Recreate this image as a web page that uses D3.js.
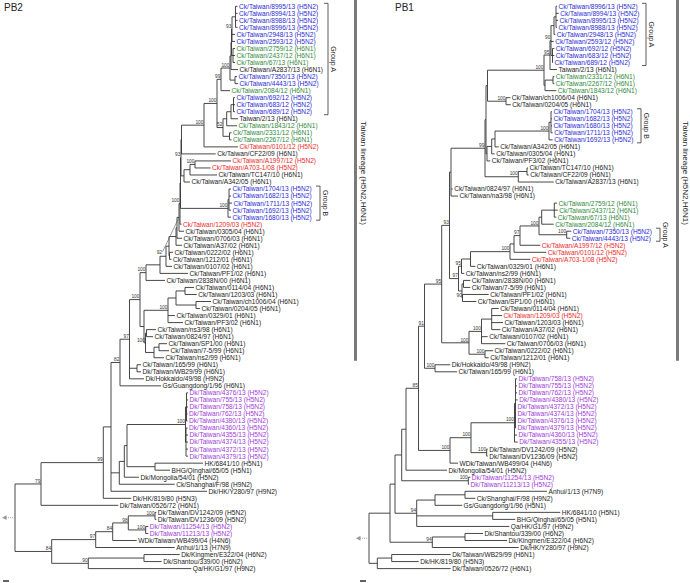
<!DOCTYPE html>
<html><head><meta charset="utf-8">
<script src="https://cdn.jsdelivr.net/npm/d3@7"></script>
<style>body{margin:0;background:#fff}svg{display:block}text{font-family:"Liberation Sans",Arial,sans-serif}</style>
</head><body>
<svg id="chart" width="690" height="583"></svg>
<script>
// ---------------- DATA ----------------
const pb2Names = ["Ck/Taiwan/8995/13 (H5N2)","Ck/Taiwan/8994/13 (H5N2)","Ck/Taiwan/8988/13 (H5N2)","Ck/Taiwan/8996/13 (H5N2)","Ck/Taiwan/2948/13 (H5N2)","Ck/Taiwan/2593/12 (H5N2)","Ck/Taiwan/2759/12 (H6N1)","Ck/Taiwan/2437/12 (H6N1)","Ck/Taiwan/67/13 (H6N1)","Ck/Taiwan/A2837/13 (H6N1)","Ck/Taiwan/7350/13 (H5N2)","Ck/Taiwan/4443/13 (H5N2)","Ck/Taiwan/2084/12 (H6N1)","Ck/Taiwan/692/12 (H5N2)","Ck/Taiwan/683/12 (H5N2)","Ck/Taiwan/689/12 (H5N2)","Taiwan/2/13 (H6N1)","Ck/Taiwan/1843/12 (H6N1)","Ck/Taiwan/2331/12 (H6N1)","Ck/Taiwan/2267/12 (H6N1)","Ck/Taiwan/0101/12 (H5N2)","Ck/Taiwan/CF22/09 (H6N1)","Ck/Taiwan/A1997/12 (H5N2)","Ck/Taiwan/A703-1/08 (H5N2)","Ck/Taiwan/TC147/10 (H6N1)","Ck/Taiwan/A342/05 (H6N1)","Ck/Taiwan/1704/13 (H5N2)","Ck/Taiwan/1682/13 (H5N2)","Ck/Taiwan/1711/13 (H5N2)","Ck/Taiwan/1692/13 (H5N2)","Ck/Taiwan/1680/13 (H5N2)","Ck/Taiwan/1209/03 (H5N2)","Ck/Taiwan/0305/04 (H6N1)","Ck/Taiwan/0706/03 (H6N1)","Ck/Taiwan/A37/02 (H6N1)","Ck/Taiwan/0222/02 (H6N1)","Ck/Taiwan/1212/01 (H6N1)","Ck/Taiwan/0107/02 (H6N1)","Ck/Taiwan/PF1/02 (H6N1)","Ck/Taiwan/2838N/00 (H6N1)","Ck/Taiwan/0114/04 (H6N1)","Ck/Taiwan/1203/03 (H6N1)","Ck/Taiwan/ch1006/04 (H6N1)","Ck/Taiwan/0204/05 (H6N1)","Ck/Taiwan/0329/01 (H6N1)","Ck/Taiwan/PF3/02 (H6N1)","Ck/Taiwan/ns3/98 (H6N1)","Ck/Taiwan/0824/97 (H6N1)","Ck/Taiwan/SP1/00 (H6N1)","Ck/Taiwan/7-5/99 (H6N1)","Ck/Taiwan/ns2/99 (H6N1)","Ck/Taiwan/165/99 (H6N1)","Dk/Taiwan/WB29/99 (H6N1)","Dk/Hokkaido/49/98 (H9N2)","Gs/Guangdong/1/96 (H6N1)","Dk/Taiwan/4376/13 (H5N2)","Dk/Taiwan/755/13 (H5N2)","Dk/Taiwan/758/13 (H5N2)","Dk/Taiwan/762/13 (H5N2)","Dk/Taiwan/4380/13 (H5N2)","Dk/Taiwan/4360/13 (H5N2)","Dk/Taiwan/4355/13 (H5N2)","Dk/Taiwan/4374/13 (H5N2)","Dk/Taiwan/4372/13 (H5N2)","Dk/Taiwan/4379/13 (H5N2)","HK/6841/10 (H5N1)","BHG/Qinghai/65/05 (H5N1)","Dk/Mongolia/54/01 (H5N2)","Ck/Shanghai/F/98 (H9N2)","Dk/HK/Y280/97 (H9N2)","Dk/HK/819/80 (H5N3)","Dk/Taiwan/0526/72 (H6N1)","Dk/Taiwan/DV1242/09 (H5N2)","Dk/Taiwan/DV1236/09 (H5N2)","Dk/Taiwan/11254/13 (H5N2)","Dk/Taiwan/11213/13 (H5N2)","WDk/Taiwan/WB499/04 (H4N6)","Anhui/1/13 (H7N9)","Dk/Kingmen/E322/04 (H6N2)","Dk/Shantou/339/00 (H6N2)","Qa/HK/G1/97 (H9N2)"];
const pb2Groups = "bbbbbbgggkbbgbbbkgggrkrrkkbbbbbrkkkkkkkkkkkkkkkkkkkkkkkppppppppppkkkkkkkkkppkkkkk".split("");
// internal nodes: [id, parent, height from root, bootstrap]
const pb2Nodes = [["r","",0,""],["n79","r",26,"79"],["n84","r",36.7,"84"],["A","n79",88.3,"99"],["G","A",96,""],["H","G",105,"82"],["I","H",114.5,"97"],["J2","I",125,"100"],["J1","J2",131,"100"],["B9","J1",145,""],["B8","B9",151,""],["B7","B8",154,""],["Q","B7",154.5,""],["B6","B7",161,""],["B5","B6",162,""],["B4","B5",164,"92"],["B3","B4",165,"100"],["B2","B3",165.5,""],["B1","B2",166,"93"],["B1i","B1",166.5,""],["n204","B1i",189,"100"],["n217","n204",202,"100"],["n221","n217",206,"99"],["n230","n221",215,"100"],["n231","n230",216,""],["n231b","n231",216.5,""],["n93","n231b",217,"93"],["c14","n93",220.5,""],["gr","n231b",218,""],["n7350","n230",220,""],["n223","n217",208,"52"],["n1843","n223",211.7,""],["nt2","n1843",216,""],["n692","nt2",218.5,""],["n2331","n223",214.5,""],["nc","B1",169,""],["nb","nc",175,""],["na","nb",180,"100"],["gB","B2",213,"100"],["c4","gB",214,""],["J3","J2",129,""],["N168","J3",153,"100"],["n176","N168",161,""],["n185","n176",170,""],["n196","n176",181,""],["Z","J3",130.5,"100"],["nNs","Z",131.5,""],["n154","Z",139,""],["n159","n154",144,""],["nK","I",122,""],["C","G",104.3,""],["D","C",109.3,""],["E","D",112,""],["P","E",170.5,"100"],["Pa","P",171.5,""],["Pb","P",171,""],["HKB","E",140,""],["n97b","n84",80.7,"97"],["n84b","n97b",97.7,"84"],["n98","n84b",113.3,"98"],["nDV","n98",140,"100"],["n112","n98",130.7,"100"],["n90","n84",73.3,"90"],["nKS","n90",129,""]];
// leaves in row order: [parent, height from root]
const pb2Leaves = [["c14",222.5],["c14",222.5],["c14",222.5],["c14",222.5],["n93",220],["n93",220],["gr",220],["gr",220],["gr",220],["n231",223],["n7350",222],["n7350",223],["n221",215],["n692",220],["n692",220],["n692",220],["nt2",223],["n1843",222],["n2331",216.5],["n2331",216.5],["n204",223],["B1i",200.7],["na",216],["na",195.5],["nb",202],["nc",175],["c4",216],["c4",216],["c4",217],["c4",216],["gB",216],["B3",166.5],["B4",169],["B5",167],["B6",167],["Q",158],["Q",156.5],["B8",157],["B9",173],["J1",150],["n185",179],["n185",181.7],["n196",196],["n196",185],["N168",160],["N168",168],["nNs",141],["nNs",138],["n159",152],["n159",154],["n154",149],["nK",126],["nK",126],["I",129],["H",146],["Pa",173],["Pa",173],["Pa",173],["Pa",172.5],["Pa",172.5],["Pb",172.5],["Pb",173],["Pb",173],["Pb",173],["Pb",173],["HKB",188],["HKB",155],["D",124],["C",159.7],["G",192],["A",116.3],["n79",103.3],["nDV",141.3],["nDV",141.3],["n112",133.3],["n112",133.3],["n84b",121.7],["n97b",159.7],["nKS",164.7],["nKS",146.7],["n90",176.3]];
const pb2Leaders = ["B4"];
const pb2Brackets = [["Group A",0,15],["Group B",26,30]];

const pb1Names = ["Ck/Taiwan/8996/13 (H5N2)","Ck/Taiwan/8994/13 (H5N2)","Ck/Taiwan/8995/13 (H5N2)","Ck/Taiwan/8988/13 (H5N2)","Ck/Taiwan/2948/13 (H5N2)","Ck/Taiwan/2593/12 (H5N2)","Ck/Taiwan/692/12 (H5N2)","Ck/Taiwan/683/12 (H5N2)","Ck/Taiwan/689/12 (H5N2)","Taiwan/2/13 (H6N1)","Ck/Taiwan/2331/12 (H6N1)","Ck/Taiwan/2267/12 (H6N1)","Ck/Taiwan/1843/12 (H6N1)","Ck/Taiwan/ch1006/04 (H6N1)","Ck/Taiwan/0204/05 (H6N1)","Ck/Taiwan/1704/13 (H5N2)","Ck/Taiwan/1682/13 (H5N2)","Ck/Taiwan/1680/13 (H5N2)","Ck/Taiwan/1711/13 (H5N2)","Ck/Taiwan/1692/13 (H5N2)","Ck/Taiwan/A342/05 (H6N1)","Ck/Taiwan/0305/04 (H6N1)","Ck/Taiwan/PF3/02 (H6N1)","Ck/Taiwan/TC147/10 (H6N1)","Ck/Taiwan/CF22/09 (H6N1)","Ck/Taiwan/A2837/13 (H6N1)","Ck/Taiwan/0824/97 (H6N1)","Ck/Taiwan/na3/98 (H6N1)","Ck/Taiwan/2759/12 (H6N1)","Ck/Taiwan/2437/12 (H6N1)","Ck/Taiwan/67/13 (H6N1)","Ck/Taiwan/2084/12 (H6N1)","Ck/Taiwan/7350/13 (H5N2)","Ck/Taiwan/4443/13 (H5N2)","Ck/Taiwan/A1997/12 (H5N2)","Ck/Taiwan/0101/12 (H5N2)","Ck/Taiwan/A703-1/08 (H5N2)","Ck/Taiwan/0329/01 (H6N1)","Ck/Taiwan/ns2/99 (H6N1)","Ck/Taiwan/2838N/00 (H6N1)","Ck/Taiwan/7-5/99 (H6N1)","Ck/Taiwan/PF1/02 (H6N1)","Ck/Taiwan/SP1/00 (H6N1)","Ck/Taiwan/0114/04 (H6N1)","Ck/Taiwan/1209/03 (H5N2)","Ck/Taiwan/1203/03 (H6N1)","Ck/Taiwan/A37/02 (H6N1)","Ck/Taiwan/0107/02 (H6N1)","Ck/Taiwan/0706/03 (H6N1)","Ck/Taiwan/0222/02 (H6N1)","Ck/Taiwan/1212/01 (H6N1)","Dk/Hokkaido/49/98 (H9N2)","Ck/Taiwan/165/99 (H6N1)","Dk/Taiwan/758/13 (H5N2)","Dk/Taiwan/755/13 (H5N2)","Dk/Taiwan/762/13 (H5N2)","Dk/Taiwan/4380/13 (H5N2)","Dk/Taiwan/4372/13 (H5N2)","Dk/Taiwan/4374/13 (H5N2)","Dk/Taiwan/4376/13 (H5N2)","Dk/Taiwan/4379/13 (H5N2)","Dk/Taiwan/4360/13 (H5N2)","Dk/Taiwan/4355/13 (H5N2)","Dk/Taiwan/DV1242/09 (H5N2)","Dk/Taiwan/DV1236/09 (H5N2)","WDk/Taiwan/WB499/04 (H4N6)","Dk/Mongolia/54/01 (H5N2)","Dk/Taiwan/11254/13 (H5N2)","Dk/Taiwan/11213/13 (H5N2)","Anhui/1/13 (H7N9)","Ck/Shanghai/F/98 (H9N2)","Gs/Guangdong/1/96 (H5N1)","HK/6841/10 (H5N1)","BHG/Qinghai/65/05 (H5N1)","Qa/HK/G1/97 (H9N2)","Dk/Shantou/339/00 (H6N2)","Dk/Kingmen/E322/04 (H6N2)","Dk/HK/Y280/97 (H9N2)","Dk/Taiwan/WB29/99 (H6N1)","Dk/HK/819/80 (H5N3)","Dk/Taiwan/0526/72 (H6N1)"];
const pb1Groups = "bbbbbbbbbkgggkkbbbbbkkkkkkkkggggbbrrrkkkkkkkrkkkkkkkkppppppppppkkkkppkkkkkkkkkkkk".split("");
const pb1Nodes = [["r","",0,""],["n390","r",21,""],["n377","r",8.3,""],["n397","n390",26,""],["n432","n390",63.3,"94"],["nSK","n432",96,""],["n401","n397",32.7,""],["n416","n397",47.7,"94"],["n435b","n416",66,""],["n465","n435b",96,""],["nHK","n416",123.7,""],["n406","n401",37,""],["n468","n401",99.3,"100"],["n418","n406",49.5,"85"],["n425","n418",55.5,"91"],["n450b","n418",81,"100"],["n471b","n450b",102,"100"],["P","n471b",145.5,"100"],["Pa","P",146.5,""],["nDV","n471b",117.7,"100"],["n441","n425",72.7,"95"],["n435","n425",66,"100"],["n93","n441",80.5,"93"],["n469","n441",100,"100"],["n481","n469",112.5,"100"],["n491b","n481",122.7,""],["n485","n469",116,"100"],["n450","n93",82,""],["nY","n450",116,"99"],["nY1","nY",117,""],["nX","nY1",118.5,""],["n100","nX",175,"100"],["n95","n100",181,"95"],["n90","n95",182,"90"],["nA","n90",185,""],["c14","nA",187,""],["c692","n90",183.5,""],["n545","n100",176,""],["c2331","n545",184,""],["ch","nX",137,"100"],["nZ","nY1",118,""],["n491","nZ",122.7,""],["n495","n491",126,""],["gB","n495",180,"100"],["c4","gB",182,""],["n518","nY",149.3,"100"],["nTC","n518",158,""],["n458","n93",89.5,"97"],["n460","n458",92.5,"95"],["n471","n460",101.5,""],["n510","n471",141,"100"],["n513","n510",145,""],["n520","n513",151,"97"],["n539","n520",170,"100"],["nG","n539",172.7,""],["gr","nG",185.3,""],["n7350","n539",197.7,"100"],["n462","n458",93,""],["n2838","n462",94.5,""],["nPF","n462",93.5,"90"],["n391","n377",22.7,""]];
const pb1Leaves = [["c14",188],["c14",189.7],["c14",189],["c14",188],["nA",186.3],["n90",184.7],["c692",185.3],["c692",185.3],["c692",184],["n95",188],["c2331",185.3],["c2331",185.3],["n545",187.3],["ch",141.3],["ch",141.7],["c4",183],["c4",183],["c4",183],["c4",183.7],["gB",183.7],["n495",129.7],["n491",125.7],["nZ",121.3],["nTC",159],["nTC",159.7],["n518",184.7],["n450",83.7],["n450",89],["gr",188],["gr",188.7],["gr",187.3],["nG",184.7],["n7350",202.3],["n7350",201.3],["n520",171.3],["n513",177.3],["n510",161.3],["n471",106.3],["n460",95.3],["n2838",101.3],["n2838",101.3],["nPF",119.7],["nPF",107.3],["n491b",129.7],["n491b",133],["n491b",134],["n491b",131.3],["n481",118.7],["n481",136.3],["n485",124],["n485",119.7],["n435",81.3],["n435",88],["Pa",148],["Pa",148],["Pa",148],["Pa",148.7],["Pa",147],["Pa",147],["Pa",147],["Pa",147],["P",148],["P",148.7],["nDV",118.7],["nDV",118.7],["n450b",89],["n406",78],["n468",101.3],["n468",100],["n465",178],["n465",106.3],["n435b",93],["nHK",191.3],["nHK",146.3],["n416",140.3],["nSK",114],["nSK",138],["n432",149.7],["n391",81.7],["n391",49.7],["n377",81.7]];
const pb1Leaders = [];
const pb1Brackets = [["Group A",0,8],["Group B",15,19],["Group A",32,33]];

const lineageLabel = "Taiwan lineage (H5N2,H6N1)";
const lineageRows = [0, 50];
const scaleBarUnits = 6;
const groupColors = {b:"#2b2bd4", g:"#2f8a3c", r:"#ec2a2a", p:"#a03ad8", k:"#222"};

// ---------------- DRAW ----------------
const svg = d3.select("#chart");
const y = d3.scaleLinear().domain([0, 80]).range([6.3, 568.6]);

function drawPanel(o){
  const g = svg.append("g");
  const x = d3.scaleLinear().domain([0, 230]).range([o.x0, o.x0 + 230]);
  const rows = o.nodes.map(d => ({id:d[0], parent:d[1], h:d[2], support:d[3]}))
    .concat(o.leaves.map((d,i) => ({id:"L"+i, parent:d[0], h:d[1], leaf:i})));
  const root = d3.stratify().id(d => d.id).parentId(d => d.parent || null)(rows);
  root.eachAfter(n => {
    n.minLeaf = n.children ? d3.min(n.children, c => c.minLeaf) : n.data.leaf;
  });
  root.sort((a,b) => a.minLeaf - b.minLeaf);
  root.eachAfter(n => {
    n.py = n.children ? (n.children[0].py + n.children[n.children.length-1].py)/2 : y(n.data.leaf);
    n.px = x(n.data.h);
  });
  const lines = g.append("g").attr("stroke","#333").attr("stroke-width",0.9).attr("fill","none");
  root.descendants().forEach(n => {
    if(n.parent) lines.append("path").attr("d",`M${n.parent.px},${n.py}H${n.px}`);
    if(n.children) lines.append("path").attr("d",`M${n.px},${n.children[0].py}V${n.children[n.children.length-1].py}`);
  });
  // leaf labels
  g.append("g").selectAll("text").data(root.leaves()).join("text")
    .attr("x", d => d.px + 1.5).attr("y", d => d.py + 2.4)
    .attr("font-size", 6.6)
    .attr("fill", d => groupColors[o.groups[d.data.leaf]])
    .text(d => o.names[d.data.leaf]);
  // bootstrap values
  const sup = root.descendants().filter(n => n.data.support);
  g.append("g").selectAll("text").data(sup).join("text")
    .attr("x", d => o.leaders.includes(d.id) ? d.px - 17 : d.px - 0.6)
    .attr("y", d => o.leaders.includes(d.id) ? d.py + 37 : d.py - 1.3)
    .attr("text-anchor","end").attr("font-size",4.8).attr("fill","#333")
    .text(d => d.data.support);
  sup.filter(d => o.leaders.includes(d.id)).forEach(d => {
    g.append("line").attr("x1", d.px - 16.5).attr("y1", d.py + 34.5).attr("x2", d.px - 0.5).attr("y2", d.py + 1)
      .attr("stroke","#555").attr("stroke-width",0.6);
  });
  // root arrow
  const rx = root.px, ry = root.py;
  g.append("line").attr("x1", rx - 9).attr("x2", rx).attr("y1", ry).attr("y2", ry)
    .attr("stroke","#999").attr("stroke-width",0.9).attr("stroke-dasharray","1,1");
  g.append("path").attr("d",`M${rx-13},${ry}L${rx-8.5},${ry-2.4}L${rx-8.5},${ry+2.4}Z`).attr("fill","#999");
  // scale bar
  g.append("line").attr("x1", o.sb).attr("x2", o.sb + x(scaleBarUnits) - x(0))
    .attr("y1", 581).attr("y2", 581).attr("stroke","#222").attr("stroke-width",1.4);
  // title
  g.append("text").attr("x", o.titleX).attr("y", 11).attr("font-size", 10).attr("fill","#222").text(o.title);
  // brackets
  o.brackets.forEach((b,i) => {
    const bx = o.bx[i], y1 = y(b[1]) - 3, y2 = y(b[2]) + 3;
    g.append("path").attr("d",`M${bx-4},${y1}H${bx}V${y2}H${bx-4}`).attr("fill","none").attr("stroke","#333").attr("stroke-width",0.8);
    g.append("text").attr("transform",`translate(${bx+5},${(y1+y2)/2}) rotate(90)`)
      .attr("text-anchor","middle").attr("dy","0.35em").attr("font-size",7).attr("fill","#222").text(b[0]);
  });
  // lineage bar
  const ly1 = y(lineageRows[0]) - 6.3, ly2 = y(lineageRows[1]) + 3;
  g.append("line").attr("x1", o.lx).attr("x2", o.lx).attr("y1", ly1).attr("y2", ly2)
    .attr("stroke","#7a7a7a").attr("stroke-width",3);
  g.append("text").attr("transform",`translate(${o.lx+8},${173}) rotate(90)`)
    .attr("text-anchor","middle").attr("dy","0.35em").attr("font-size",8).attr("fill","#222").text(lineageLabel);
}

drawPanel({names:pb2Names, groups:pb2Groups, nodes:pb2Nodes, leaves:pb2Leaves, leaders:pb2Leaders,
  brackets:pb2Brackets, bx:[328,320], x0:15, sb:3, title:"PB2", titleX:4, lx:355.5});
drawPanel({names:pb1Names, groups:pb1Groups, nodes:pb1Nodes, leaves:pb1Leaves, leaders:pb1Leaders,
  brackets:pb1Brackets, bx:[646,641,660], x0:369, sb:360, title:"PB1", titleX:395, lx:677.5});
</script></body></html>
